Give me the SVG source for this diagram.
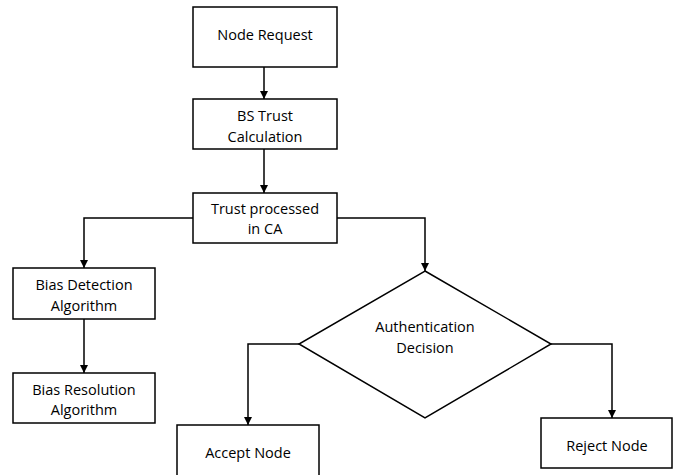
<svg xmlns="http://www.w3.org/2000/svg" width="673" height="475" viewBox="0 0 673 475">
<style>
.box{fill:#fff;stroke:#000;stroke-width:1.5}
.t{font-family:"Open Sans","Liberation Sans",sans-serif;font-size:14.5px;fill:#000;text-anchor:middle;dominant-baseline:central}
.c{fill:none;stroke:#000;stroke-width:1.5}
</style>
<defs>
<marker id="ah" markerWidth="8" markerHeight="8" refX="8" refY="4" orient="auto" markerUnits="userSpaceOnUse">
<path d="M0,0 L8,4 L0,8 Z" fill="#000"/>
</marker>
</defs>
<rect width="673" height="475" fill="#fff"/>
<g id="connectors">
<path class="c" d="M264,67 V99" marker-end="url(#ah)"/>
<path class="c" d="M264,149 V193" marker-end="url(#ah)"/>
<path class="c" d="M193,218 H84 V268" marker-end="url(#ah)"/>
<path class="c" d="M337,218 H425 V271" marker-end="url(#ah)"/>
<path class="c" d="M84,319 V373" marker-end="url(#ah)"/>
<path class="c" d="M299,344 H248 V425" marker-end="url(#ah)"/>
<path class="c" d="M551,344 H612 V418" marker-end="url(#ah)"/>
</g>
<g id="node-request">
<rect class="box" x="193" y="7" width="144" height="60"/>
<text class="t" x="265" y="34">Node Request</text>
</g>
<g id="bs-trust">
<rect class="box" x="193" y="99" width="144" height="50"/>
<text class="t" x="265" y="115">BS Trust</text>
<text class="t" x="265" y="136">Calculation</text>
</g>
<g id="trust-processed">
<rect class="box" x="193" y="193" width="144" height="50"/>
<text class="t" x="265" y="208">Trust processed</text>
<text class="t" x="265" y="228">in CA</text>
</g>
<g id="bias-detection">
<rect class="box" x="13" y="268" width="142" height="51"/>
<text class="t" x="84" y="284">Bias Detection</text>
<text class="t" x="84" y="305">Algorithm</text>
</g>
<g id="bias-resolution">
<rect class="box" x="13" y="373" width="142" height="50"/>
<text class="t" x="84" y="389">Bias Resolution</text>
<text class="t" x="84" y="409">Algorithm</text>
</g>
<g id="auth-decision">
<polygon class="box" points="425,271 551,344 425,418 299,344"/>
<text class="t" x="425" y="326">Authentication</text>
<text class="t" x="425" y="347">Decision</text>
</g>
<g id="accept-node">
<rect class="box" x="177" y="425" width="142" height="55"/>
<text class="t" x="248" y="452">Accept Node</text>
</g>
<g id="reject-node">
<rect class="box" x="541" y="418" width="131" height="50"/>
<text class="t" x="607" y="445">Reject Node</text>
</g>
</svg>
